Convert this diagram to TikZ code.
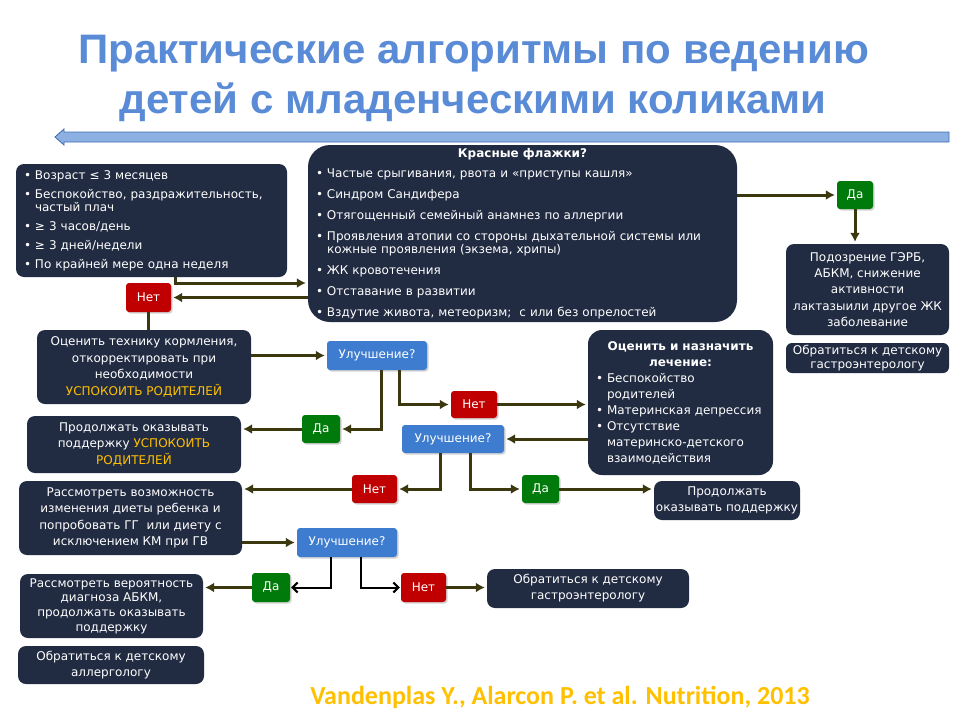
\documentclass[tikz,border=0pt]{standalone}
\usepackage{fontspec}
\setmainfont{DejaVu Sans}
\newfontfamily\titlefont{Liberation Sans}
\newfontfamily\citefont{Carlito}
\usetikzlibrary{arrows.meta,shadows}

\definecolor{boxbg}{HTML}{212B42}
\definecolor{nored}{HTML}{C00000}
\definecolor{yesgreen}{HTML}{007A0A}
\definecolor{askblue}{HTML}{3D7CCF}
\definecolor{linkol}{HTML}{3B3810}
\definecolor{calmyel}{HTML}{FFC000}
\definecolor{titleblue}{HTML}{5A8BD6}
\definecolor{barfill}{HTML}{8DB0E2}
\definecolor{baredge}{HTML}{3E6DB0}

\newcommand{\calm}[1]{\textcolor{calmyel}{#1}}
\newcommand{\itm}{\makebox[11pt][l]{•}}
\newcommand{\ind}{\hspace*{11pt}}

\begin{document}
\begin{tikzpicture}[
    x=1pt, y=-1pt,
    font=\fontsize{12}{13}\selectfont,
    darkbox/.style={fill=boxbg, text=white, rounded corners=8pt, inner sep=0pt, align=center},
    listbox/.style={darkbox, align=left},
    decision/.style={fill=askblue, text=white, rounded corners=3pt, minimum width=100pt, minimum height=29pt, inner sep=0pt, font=\fontsize{12}{14}\selectfont, drop shadow={opacity=0.35, shadow xshift=1.5pt, shadow yshift=-1.5pt}},
    nobox/.style={decision, fill=nored, minimum width=45pt},
    yesbox/.style={decision, fill=yesgreen, minimum width=38pt},
    conn/.style={-{Latex[length=9pt,width=10pt]}, line width=3pt, draw=linkol, shorten >=2pt},
    plain/.style={line width=3pt, draw=linkol},
    blackconn/.style={-{Straight Barb[length=5pt,width=10pt]}, line width=2pt, draw=black, shorten >=1pt}
]

\fill[white] (0,0) rectangle (960,720);
\useasboundingbox (0,0) rectangle (960,720);

% Заголовок
\node[font=\titlefont\bfseries\fontsize{40}{50}\selectfont, text=titleblue, anchor=base] (title1) at (473.5,63) {\scalebox{1.05}[1.03]{Практические алгоритмы по ведению}};
\node[font=\titlefont\bfseries\fontsize{40}{50}\selectfont, text=titleblue, anchor=base] (title2) at (473,113) {\scalebox{1.05}[1.03]{детей с младенческими коликами}};
\draw[baredge, fill=barfill, line width=0.8pt] (949,132) -- (64,132) -- (64,129) -- (55,137) -- (64,145) -- (64,142) -- (949,142) -- cycle;

% Критерии и красные флажки
\node[listbox, minimum width=271, minimum height=113, text width=255] (crit) at (151.5,220.5) {%
\itm Возраст ≤ 3 месяцев\\[6pt]
\itm Беспокойство, раздражительность,\\
\ind частый плач\\[6pt]
\itm ≥ 3 часов/день\\[6pt]
\itm ≥ 3 дней/недели\\[6pt]
\itm По крайней мере одна неделя};

\node[listbox, rounded corners=22pt, minimum width=429, minimum height=177, text width=413] (flags) at (522.5,233.5) {%
\makebox[\hsize]{\bfseries Красные флажки?}\\[7pt]
\itm Частые срыгивания, рвота и «приступы кашля»\\[8pt]
\itm Синдром Сандифера\\[8pt]
\itm Отягощенный семейный анамнез по аллергии\\[8pt]
\itm Проявления атопии со стороны дыхательной системы или\\
\ind кожные проявления (экзема, хрипы)\\[8pt]
\itm ЖК кровотечения\\[8pt]
\itm Отставание в развитии\\[8pt]
\itm Вздутие живота, метеоризм;~ с или без опрелостей};

% Правая колонка
\node[yesbox, minimum width=36pt, minimum height=28pt] (yes4) at (855,195) {Да};
\node[darkbox, minimum width=163, minimum height=91, font=\fontsize{12}{16.2}\selectfont] (susp) at (867.5,289.5) {Подозрение ГЭРБ,\\ АБКМ, снижение\\ активности\\ лактазыили другое ЖК\\ заболевание};
\node[darkbox, rounded corners=6pt, minimum width=163, minimum height=30, font=\fontsize{12}{14}\selectfont] (gastro1) at (867.5,358) {Обратиться к детскому\\ гастроэнтерологу};

% Первый шаг
\node[nobox, minimum height=29pt] (no1) at (148.5,297.5) {Нет};
\node[darkbox, minimum width=214, minimum height=74, font=\fontsize{12}{16.4}\selectfont] (korm) at (144,367) {Оценить технику кормления,\\ откорректировать при\\ необходимости\\ \calm{УСПОКОИТЬ РОДИТЕЛЕЙ}};
\node[decision] (imp1) at (377,355.5) {Улучшение?};
\node[yesbox, minimum height=28pt] (yes1) at (321,429) {Да};
\node[nobox, minimum width=46pt, minimum height=27pt] (no2) at (474,404.5) {Нет};
\node[darkbox, minimum width=214, minimum height=57, font=\fontsize{12}{16.5}\selectfont] (calm1) at (134,444.5) {Продолжать оказывать\\ поддержку \calm{УСПОКОИТЬ}\\ \calm{РОДИТЕЛЕЙ}};

% Лечение
\node[listbox, rounded corners=14pt, minimum width=185, minimum height=145, text width=169, font=\fontsize{12}{16}\selectfont] (treat) at (680.5,402.5) {%
\makebox[\hsize]{\bfseries Оценить и назначить}\\
\makebox[\hsize]{\bfseries лечение:}\\
\itm Беспокойство\\
\ind родителей\\
\itm Материнская депрессия\\
\itm Отсутствие\\
\ind материнско-детского\\
\ind взаимодействия};
\node[decision, minimum width=102pt, minimum height=28pt] (imp2) at (453,439) {Улучшение?};
\node[nobox, minimum height=28pt] (no3) at (374.5,489) {Нет};
\node[yesbox, minimum width=37pt, minimum height=28pt] (yes2) at (540.5,489) {Да};
\node[darkbox, minimum width=146, minimum height=39, font=\fontsize{12}{16}\selectfont] (cont2) at (727,500.5) {Продолжать\\ оказывать поддержку};

% Диета
\node[darkbox, minimum width=223, minimum height=74, font=\fontsize{12}{16.3}\selectfont] (diet) at (130.5,518) {Рассмотреть возможность\\ изменения диеты ребенка и\\ попробовать ГГ~ или диету с\\ исключением КМ при ГВ};
\node[decision] (imp3) at (347,542.5) {Улучшение?};
\node[yesbox] (yes3) at (271,587.5) {Да};
\node[nobox] (no4) at (423.5,587.5) {Нет};
\node[darkbox, minimum width=183, minimum height=64, font=\fontsize{12}{14.7}\selectfont] (abkm) at (111.5,606) {Рассмотреть вероятность\\ диагноза АБКМ,\\ продолжать оказывать\\ поддержку};
\node[darkbox, minimum width=186, minimum height=38, font=\fontsize{12}{16}\selectfont] (allergo) at (111,665) {Обратиться к детскому\\ аллергологу};
\node[darkbox, minimum width=202, minimum height=39, font=\fontsize{12}{16}\selectfont] (gastro2) at (588,588.5) {Обратиться к детскому\\ гастроэнтерологу};

% Источник
\node[font=\citefont\bfseries\fontsize{26}{30}\selectfont, text=calmyel, anchor=base] (cite) at (560,704) {Vandenplas Y., Alarcon P. et al. Nutrition, 2013};

% Связи
\draw[conn] ([xshift=23.5pt]crit.south) |- ([yshift=-49.5pt]flags.west);
\draw[conn] (flags.west |- no1.east) -- (no1.east);
\draw[plain] (no1.south) -- (no1.south |- korm.north);
\draw[conn] (korm.east |- imp1.west) -- (imp1.west);
\draw[conn] ([xshift=4pt]imp1.south) |- (yes1.east);
\draw[conn] ([xshift=22pt]imp1.south) |- (no2.west);
\draw[conn] (yes1.west) -- (yes1.west -| calm1.east);
\draw[conn] (no2.east) -- (no2.east -| treat.west);
\draw[conn] (treat.west |- imp2.east) -- (imp2.east);
\draw[conn] ([xshift=-13pt]imp2.south) |- (no3.east);
\draw[conn] ([xshift=17pt]imp2.south) |- (yes2.west);
\draw[conn] (yes2.east) -- (yes2.east -| cont2.west);
\draw[conn] (no3.west) -- (no3.west -| diet.east);
\draw[conn] (diet.east |- imp3.west) -- (imp3.west);
\draw[blackconn] ([xshift=-16pt]imp3.south) |- (yes3.east);
\draw[blackconn] ([xshift=14pt]imp3.south) |- (no4.west);
\draw[conn] (yes3.west) -- (yes3.west -| abkm.east);
\draw[conn] (no4.east) -- (no4.east -| gastro2.west);
\draw[conn] (flags.east |- yes4.west) -- (yes4.west);
\draw[conn] (yes4.south) -- (yes4.south |- susp.north);

\end{tikzpicture}
\end{document}
